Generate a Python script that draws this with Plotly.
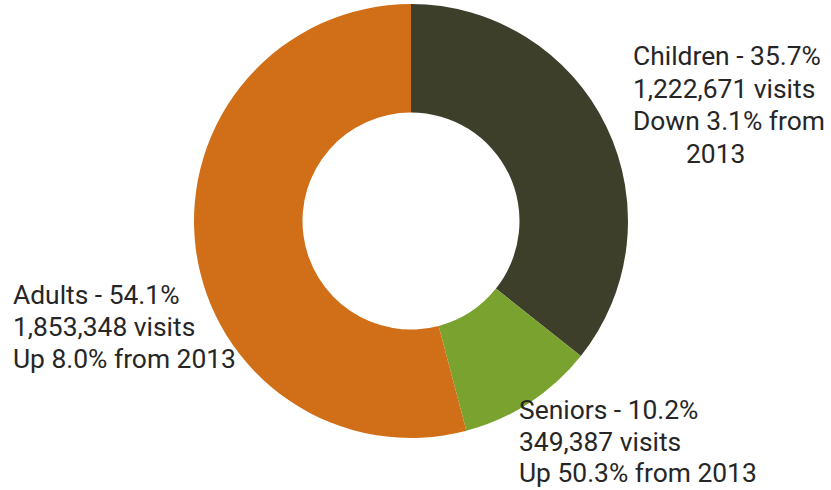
import plotly.graph_objects as go

categories = ["Children", "Seniors", "Adults"]
visits = [1222671, 349387, 1853348]
colors = ["#3e3f2a", "#7aa22f", "#d06f18"]

children_lines = ["Children - 35.7%", "1,222,671 visits", "Down 3.1% from", "2013"]
seniors_lines = ["Seniors - 10.2%", "349,387 visits", "Up 50.3% from 2013"]
adults_lines = ["Adults - 54.1%", "1,853,348 visits", "Up 8.0% from 2013"]

W, H = 831, 490
cx, cy, r = 411, 221, 217

fig = go.Figure(go.Pie(
    labels=categories, values=visits, hole=0.5, sort=False,
    direction="clockwise", rotation=0,
    marker=dict(colors=colors, line=dict(color="white", width=0)),
    textinfo="none", hoverinfo="label+value+percent", showlegend=False,
    domain=dict(x=[(cx - r) / W, (cx + r) / W], y=[1 - (cy + r) / H, 1 - (cy - r) / H]),
))

font = dict(family="Roboto", size=26.4, color="#262626")
anns = []

def add_block(lines, xs, ys):
    for t, x, y in zip(lines, xs, ys):
        anns.append(dict(text=t, x=x / W, y=1 - y / H, xref="paper", yref="paper",
                         xanchor="left", yanchor="middle", showarrow=False, font=font))

add_block(children_lines, [631, 631, 631, 684], [56, 89, 121, 154])
add_block(adults_lines, [11, 11, 11], [295, 327, 359])
add_block(seniors_lines, [517, 517, 517], [410, 442, 473])

fig.update_layout(width=W, height=H, margin=dict(l=0, r=0, t=0, b=0),
                  paper_bgcolor="white", plot_bgcolor="white", annotations=anns)
fig.write_html("out.html")
